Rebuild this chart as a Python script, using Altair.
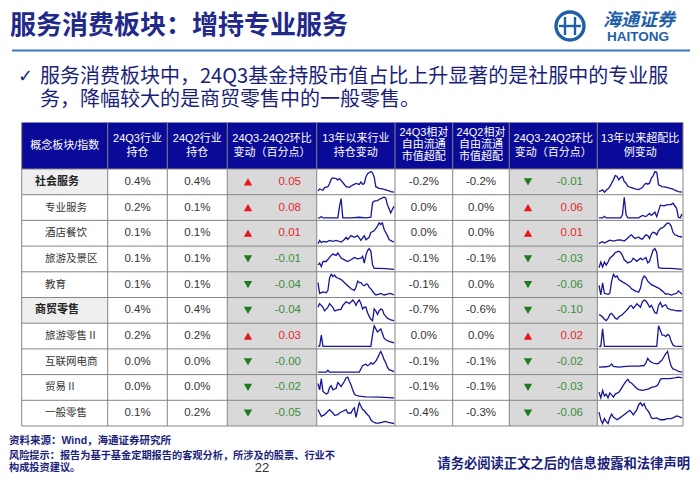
import altair as alt
import pandas as pd

# ---------------- data ----------------
title = "服务消费板块：增持专业服务"
bullet_lines = ["服务消费板块中，24Q3基金持股市值占比上升显著的是社服中的专业服",
                "务，降幅较大的是商贸零售中的一般零售。"]
header_lines = [["概念板块/指数"], ["24Q3行业", "持仓"], ["24Q2行业", "持仓"],
                ["24Q3-24Q2环比", "变动（百分点）"], ["13年以来行业", "持仓变动"],
                ["24Q3相对", "自由流通", "市值超配"], ["24Q2相对", "自由流通", "市值超配"],
                ["24Q3-24Q2环比", "变动（百分点）"], ["13年以来超配比", "例变动"]]
categories = ["社会服务", "专业服务", "酒店餐饮", "旅游及景区", "教育",
              "商贸零售", "旅游零售 II", "互联网电商", "贸易 II", "一般零售"]
is_group = [True, False, False, False, False, True, False, False, False, False]
hold_q3 = [0.4, 0.2, 0.1, 0.1, 0.1, 0.4, 0.2, 0.0, 0.0, 0.1]
hold_q2 = [0.4, 0.1, 0.1, 0.1, 0.1, 0.4, 0.2, 0.0, 0.0, 0.2]
hold_chg = [0.05, 0.08, 0.01, -0.01, -0.04, -0.04, 0.03, -0.004, -0.02, -0.05]
over_q3 = [-0.2, 0.0, 0.0, -0.1, -0.1, -0.7, 0.0, -0.1, -0.1, -0.4]
over_q2 = [-0.2, 0.0, 0.0, -0.1, 0.0, -0.6, 0.0, -0.1, -0.1, -0.3]
over_chg = [-0.01, 0.06, 0.01, -0.03, -0.06, -0.10, 0.02, -0.02, -0.03, -0.06]

# sparkline readings: (quarter index, 0 = 2013Q1 ... 46 = 2024Q3 ; relative level)
hold_trend = {
    "社会服务": [(0,10),(1,16),(3,12),(4,20),(6,23),(7,33),(8,46),(9,50),(11,48),(12,44),(13,48),(15,36),(17,23),(19,21),(21,28),(23,33),(25,30),(26,38),(27,30),(28,33),(29,53),(30,63),(32,70),(33,66),(34,53),(35,23),(37,18),(39,16),(41,13),(43,10),(44,8),(46,6)],
    "专业服务": [(0,6),(1,6),(2,10),(3,6),(9,6),(12,6),(13,40),(14,64),(15,6),(20,6),(25,8),(29,6),(32,8),(33,51),(34,56),(36,58),(38,64),(40,68),(41,66),(42,46),(44,21),(45,31),(46,41)],
    "酒店餐饮": [(0,9),(1,19),(2,12),(3,16),(5,14),(7,19),(9,16),(11,19),(14,14),(16,22),(17,29),(18,22),(20,34),(22,29),(24,34),(26,19),(28,34),(29,21),(31,29),(32,44),(34,49),(36,64),(37,74),(38,69),(39,74),(40,54),(42,34),(43,22),(45,16),(46,14)],
    "旅游及景区": [(0,22),(1,27),(2,17),(3,32),(5,32),(7,44),(8,50),(9,54),(11,50),(12,57),(14,42),(16,37),(18,32),(20,37),(22,44),(24,40),(26,42),(27,47),(28,27),(29,50),(30,64),(31,70),(32,62),(33,22),(34,12),(37,12),(41,11),(46,9)],
    "教育": [(0,45),(1,10),(3,15),(5,12),(6,20),(7,60),(8,72),(9,65),(10,70),(11,62),(12,60),(14,55),(15,50),(17,40),(18,35),(20,25),(22,20),(23,30),(24,50),(25,45),(26,45),(27,38),(28,35),(29,40),(30,40),(31,30),(32,25),(34,10),(35,5),(37,8),(38,10),(40,5),(42,8),(44,10),(46,5)],
    "商贸零售": [(0,49),(1,59),(3,49),(4,39),(6,49),(7,59),(9,49),(10,39),(12,42),(14,44),(15,54),(17,64),(18,62),(19,59),(20,64),(21,69),(22,64),(23,54),(24,64),(25,69),(26,59),(27,44),(28,49),(29,49),(30,34),(31,24),(32,16),(33,12),(34,44),(35,39),(36,29),(37,39),(38,44),(39,42),(40,29),(41,24),(42,19),(44,14),(46,12)],
    "旅游零售 II": [(0,7),(1,7),(2,42),(3,6),(32,6),(33,42),(34,72),(35,62),(36,52),(37,57),(38,62),(39,47),(40,32),(41,27),(43,22),(46,17)],
    "互联网电商": [(0,4),(5,4),(6,10),(7,4),(25,4),(26,15),(27,25),(28,28),(29,30),(30,25),(31,28),(32,35),(33,30),(34,35),(35,40),(36,50),(37,62),(38,72),(39,60),(40,45),(41,35),(42,20),(43,12),(45,8),(46,5)],
    "贸易 II": [(0,52),(1,32),(2,67),(3,27),(5,19),(6,22),(7,39),(8,45),(9,32),(11,37),(12,55),(13,49),(14,42),(16,59),(17,69),(18,72),(19,59),(20,47),(21,32),(22,19),(23,15),(25,12),(29,10),(37,9),(46,7)],
    "一般零售": [(0,48),(1,38),(2,28),(4,33),(6,43),(7,48),(9,38),(10,31),(12,33),(13,38),(15,43),(17,48),(18,38),(20,38),(21,48),(22,53),(23,25),(24,48),(25,68),(26,58),(27,48),(28,45),(29,38),(30,33),(31,28),(32,18),(33,13),(35,8),(37,8),(39,11),(41,13),(42,11),(44,9),(46,7)],
}
over_trend = {
    "社会服务": [(0,8),(1,10),(2,13),(3,6),(4,12),(5,16),(6,23),(7,33),(8,43),(9,56),(10,53),(11,43),(12,50),(13,53),(14,38),(15,33),(16,23),(18,20),(20,16),(22,14),(24,20),(25,28),(26,33),(27,30),(28,33),(29,48),(30,55),(31,68),(32,66),(33,28),(35,23),(37,21),(39,18),(41,15),(42,12),(44,8),(46,6)],
    "专业服务": [(0,6),(2,6),(3,11),(4,6),(12,6),(13,16),(14,71),(15,16),(16,6),(22,6),(24,14),(26,10),(28,20),(29,14),(31,24),(32,10),(34,46),(36,44),(38,48),(40,48),(41,52),(43,36),(44,8),(45,6),(46,18)],
    "酒店餐饮": [(0,8),(1,12),(2,14),(3,10),(5,16),(6,19),(8,16),(10,19),(12,20),(14,16),(16,26),(17,32),(18,36),(19,29),(20,24),(22,29),(23,24),(24,22),(25,29),(26,36),(27,34),(28,24),(29,39),(30,44),(31,42),(32,36),(33,49),(34,56),(35,58),(36,62),(37,69),(38,74),(39,72),(40,64),(41,44),(42,36),(43,34),(44,31),(46,29)],
    "旅游及景区": [(0,12),(1,30),(2,14),(3,30),(4,20),(5,30),(6,42),(8,52),(9,60),(10,62),(11,64),(12,60),(13,50),(14,37),(16,27),(18,32),(19,42),(20,37),(21,32),(23,42),(24,37),(25,40),(26,44),(27,27),(28,32),(29,50),(30,67),(31,72),(32,60),(33,12),(35,10),(39,10),(42,9),(46,7)],
    "教育": [(0,38),(1,10),(2,45),(3,15),(5,12),(6,15),(7,50),(8,70),(9,62),(10,65),(11,55),(13,48),(15,42),(17,35),(18,28),(20,22),(22,18),(23,30),(24,55),(25,65),(26,60),(27,50),(29,40),(31,35),(33,30),(35,22),(37,12),(38,14),(40,10),(41,12),(43,15),(44,22),(46,12)],
    "商贸零售": [(0,29),(1,26),(2,22),(3,16),(4,12),(5,18),(6,29),(7,32),(8,26),(9,19),(10,16),(11,22),(13,29),(15,39),(16,44),(17,52),(18,54),(19,46),(20,52),(21,59),(22,54),(23,49),(24,64),(25,69),(26,66),(27,59),(28,49),(29,54),(30,44),(31,34),(32,32),(33,54),(34,62),(35,50),(36,54),(37,56),(38,46),(40,42),(41,42),(43,39),(44,40),(46,39)],
    "旅游零售 II": [(0,6),(1,6),(2,62),(3,6),(32,6),(33,72),(34,57),(35,42),(36,42),(37,37),(38,44),(39,40),(40,22),(41,10),(42,7),(46,6)],
    "互联网电商": [(0,22),(4,23),(6,26),(7,32),(8,24),(11,22),(15,24),(18,25),(22,25),(25,27),(26,35),(27,50),(28,42),(29,38),(30,35),(32,32),(33,34),(34,40),(35,45),(36,55),(37,65),(38,72),(39,45),(40,25),(41,16),(43,12),(44,8),(46,6)],
    "贸易 II": [(0,32),(1,17),(2,37),(3,22),(4,27),(5,17),(6,30),(7,25),(8,19),(9,27),(11,32),(12,39),(13,47),(14,55),(15,62),(16,67),(17,59),(18,57),(19,52),(20,47),(21,42),(22,39),(24,37),(26,39),(28,42),(29,45),(31,47),(32,49),(33,55),(34,67),(35,69),(39,69),(42,71),(44,73),(46,71)],
    "一般零售": [(0,38),(1,18),(2,8),(3,21),(4,13),(5,8),(6,23),(7,33),(8,25),(10,18),(11,21),(13,28),(15,35),(17,43),(18,38),(19,31),(21,45),(22,58),(23,63),(24,55),(25,61),(26,48),(27,43),(28,35),(29,23),(30,21),(32,23),(34,18),(36,18),(38,21),(40,21),(41,23),(43,28),(44,27),(46,23)],
}
N_Q = 46
source_text = "资料来源：Wind，海通证券研究所"
risk_lines = ["风险提示：报告为基于基金定期报告的客观分析，所涉及的股票、行业不", "构成投资建议。"]
page_no = "22"
disclaimer = "请务必阅读正文之后的信息披露和法律声明"

# ---------------- layout (page pixel units) ----------------
COL = [21.7, 107.7, 167.3, 227.3, 316.7, 395, 452.7, 509.3, 597.3, 683]
HEAD_TOP, HEAD_BOT, TABLE_BOT = 122.5, 169.0, 426.0
ROW_H = (TABLE_BOT - HEAD_BOT) / len(categories)
NAVY = "#1B1F7A"
CJK = "Noto Sans CJK SC"
MIX = "Liberation Sans, Noto Sans CJK SC"

XS = alt.Scale(domain=[8, 692], nice=False, zero=False)
YS = alt.Scale(domain=[8, 474], nice=False, zero=False, reverse=True)


def X(f="x"):
    return alt.X(f"{f}:Q", scale=XS, axis=None)


def Y(f="y"):
    return alt.Y(f"{f}:Q", scale=YS, axis=None)


def texts(rows, **kw):
    return alt.Chart(pd.DataFrame(rows)).mark_text(**kw).encode(x=X(), y=Y(), text="text:N")


def mid(i):
    return HEAD_BOT + ROW_H * (i + 0.5)


layers = []

# rects
rects = [{"x": COL[0], "x2": COL[-1], "y": HEAD_TOP, "y2": HEAD_BOT, "c": "#0A0A98"}]
for c in (3, 7):
    rects.append({"x": COL[c], "x2": COL[c + 1], "y": HEAD_BOT, "y2": TABLE_BOT, "c": "#D9D9D9"})
for i, g in enumerate(is_group):
    if g:
        rects.append({"x": COL[0], "x2": COL[1], "y": HEAD_BOT + ROW_H * i,
                      "y2": HEAD_BOT + ROW_H * (i + 1), "c": "#EFEFEF"})
layers.append(alt.Chart(pd.DataFrame(rects)).mark_rect().encode(
    x=X(), x2="x2:Q", y=Y(), y2="y2:Q", color=alt.Color("c:N", scale=None)))

# grid lines
grid = []
for k in range(len(categories) + 1):
    yy = HEAD_BOT + ROW_H * k
    grid.append({"x": COL[0], "x2": COL[-1], "y": yy, "y2": yy})
for cx in COL:
    grid.append({"x": cx, "x2": cx, "y": HEAD_TOP, "y2": TABLE_BOT})
layers.append(alt.Chart(pd.DataFrame(grid)).mark_rule(color="#858585", strokeWidth=1).encode(
    x=X(), x2="x2:Q", y=Y(), y2="y2:Q"))

# title line
layers.append(alt.Chart(pd.DataFrame([{"x": 12, "x2": 690, "y": 50.5, "y2": 50.5}])).mark_rule(
    color="#3A76BE", strokeWidth=2).encode(x=X(), x2="x2:Q", y=Y(), y2="y2:Q"))

# logo
layers.append(alt.Chart(pd.DataFrame([{"x": 570, "y": 26}])).mark_point(
    shape="circle", filled=False, size=28 * 28, strokeWidth=3.4, color="#1F5FA8", opacity=1).encode(x=X(), y=Y()))
logo_lines = [{"x": 559, "x2": 581, "y": 26, "y2": 26}, {"x": 565, "x2": 565, "y": 17, "y2": 35},
              {"x": 575, "x2": 575, "y": 17, "y2": 35}]
layers.append(alt.Chart(pd.DataFrame(logo_lines)).mark_rule(color="#1F5FA8", strokeWidth=2.4).encode(
    x=X(), x2="x2:Q", y=Y(), y2="y2:Q"))
layers.append(texts([{"x": 639, "y": 20.5, "text": "海通证券"}], font=CJK, fontSize=18, fontWeight="bold",
                    fontStyle="italic", color="#1F5FA8", align="center", baseline="middle"))
layers.append(texts([{"x": 638, "y": 37, "text": "HAITONG"}], font="Liberation Sans", fontSize=13.5,
                    fontWeight="bold", color="#1F5FA8", align="center", baseline="middle"))

# title + bullets
layers.append(texts([{"x": 10, "y": 26, "text": title}], font=CJK, fontSize=26, fontWeight="bold",
                    color="#1F2A8A", align="left", baseline="middle"))
layers.append(texts([{"x": 18, "y": 77, "text": "✓"}], font="DejaVu Sans", fontSize=18,
                    color=NAVY, align="left", baseline="middle"))
layers.append(texts([{"x": 40, "y": 77 + 23 * i, "text": t} for i, t in enumerate(bullet_lines)],
                    font=CJK, fontSize=20, color=NAVY, align="left", baseline="middle"))

# header texts
hdr = []
line_y = {1: [146], 2: [139.3, 153.3], 3: [133, 144.7, 156.5]}
for c, lines in enumerate(header_lines):
    cx = (COL[c] + COL[c + 1]) / 2
    for t, yy in zip(lines, line_y[len(lines)]):
        hdr.append({"x": cx, "y": yy, "text": t})
layers.append(texts(hdr, font=MIX, fontSize=11, color="white", align="center", baseline="middle"))

# category labels
layers.append(texts([{"x": 35, "y": mid(i), "text": c} for i, c in enumerate(categories) if is_group[i]],
                    font=CJK, fontSize=11, fontWeight="bold", color="#222222", align="left", baseline="middle"))
layers.append(texts([{"x": 45, "y": mid(i), "text": c} for i, c in enumerate(categories) if not is_group[i]],
                    font=CJK, fontSize=10.5, color="#333333", align="left", baseline="middle"))

# numeric cells
nums = []
for i in range(len(categories)):
    for c, vals in ((1, hold_q3), (2, hold_q2), (5, over_q3), (6, over_q2)):
        nums.append({"x": (COL[c] + COL[c + 1]) / 2, "y": mid(i), "text": f"{vals[i]:.1f}%"})
layers.append(texts(nums, font="Liberation Sans", fontSize=11.5, color="#333333", align="center", baseline="middle"))

# change cells
chg, tri = [], []
for i in range(len(categories)):
    for tx, vx, vals in ((248, 301, hold_chg), (528, 583, over_chg)):
        v = vals[i]
        up = v > 0
        chg.append({"x": vx, "y": mid(i), "text": f"{v:.2f}", "c": "#E3262E" if up else "#3B8E3B"})
        tri.append({"x": tx, "y": mid(i), "s": "triangle-up" if up else "triangle-down",
                    "c": "#E8141C" if up else "#1E7A1E"})
layers.append(alt.Chart(pd.DataFrame(chg)).mark_text(font="Liberation Sans", fontSize=11.5, align="right",
                                                     baseline="middle").encode(
    x=X(), y=Y(), text="text:N", color=alt.Color("c:N", scale=None)))
layers.append(alt.Chart(pd.DataFrame(tri)).mark_point(filled=True, size=70, opacity=1).encode(
    x=X(), y=Y(), shape=alt.Shape("s:N", scale=None), color=alt.Color("c:N", scale=None)))

# sparklines
spark = []
for i, cat in enumerate(categories):
    for key, trend, (x0, x1) in (("h", hold_trend, (318, 394)), ("o", over_trend, (599, 682))):
        pts = trend[cat]
        vs = [v for _, v in pts]
        lo, hi = min(vs), max(vs)
        top = HEAD_BOT + ROW_H * i + 2.5
        bot = HEAD_BOT + ROW_H * (i + 1) - 2.5
        for q, v in pts:
            spark.append({"series": f"{key}{i}", "q": q, "x": x0 + (x1 - x0) * q / N_Q,
                          "y": bot - (v - lo) / (hi - lo) * (bot - top)})
layers.append(alt.Chart(pd.DataFrame(spark)).mark_line(color="#16169A", strokeWidth=1.3).encode(
    x=X(), y=Y(), detail="series:N", order="q:Q"))

# footer
layers.append(texts([{"x": 9, "y": 441, "text": source_text}], font=MIX, fontSize=10.5, fontWeight="bold",
                    color=NAVY, align="left", baseline="middle"))
layers.append(texts([{"x": 9, "y": 456 + 12 * i, "text": t} for i, t in enumerate(risk_lines)], font=CJK,
                    fontSize=10.2, fontWeight="bold", color=NAVY, align="left", baseline="middle"))
layers.append(texts([{"x": 262, "y": 468, "text": page_no}], font="Liberation Sans", fontSize=13,
                    color="#333333", align="center", baseline="middle"))
layers.append(texts([{"x": 690, "y": 464, "text": disclaimer}], font=CJK, fontSize=13.3, fontWeight="bold",
                    color=NAVY, align="right", baseline="middle"))

chart = alt.layer(*layers).properties(
    width=684, height=466, autosize=alt.AutoSizeParams(type="none"), padding=0
).configure_view(stroke=None)

chart.save("out.html", embed_options={"renderer": "svg", "actions": False})
